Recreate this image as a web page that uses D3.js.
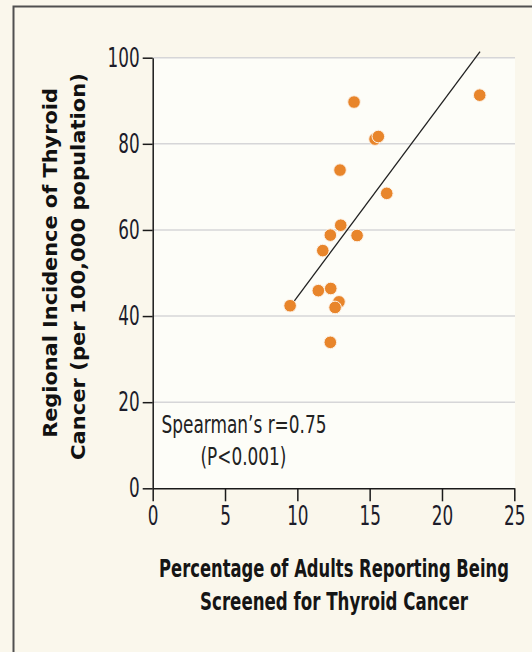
<!DOCTYPE html>
<html>
<head>
<meta charset="utf-8">
<script src="https://cdn.jsdelivr.net/npm/d3@7"></script>
<style>
  html, body { margin: 0; padding: 0; background: #faf7ec; }
  svg { display: block; }
  .cond { font-family: "DejaVu Sans Condensed", "Liberation Sans Narrow", sans-serif; }
</style>
</head>
<body>
<svg id="chart" width="532" height="652"></svg>
<script>
// ---- data ----
const xTicks = [0, 5, 10, 15, 20, 25];
const yTicks = [0, 20, 40, 60, 80, 100];
// screening percentage (x) and incidence per 100,000 (y), one per region
const screeningPct = [12.88, 15.37, 9.50, 11.45, 12.31, 12.61, 12.28, 11.76, 12.28, 13.00, 14.13, 12.95, 16.18, 13.92, 15.60, 22.61];
const incidence    = [43.3, 81.1, 42.4, 45.9, 46.4, 42.0, 33.9, 55.2, 58.8, 61.1, 58.7, 73.9, 68.5, 89.7, 81.7, 91.3];
// fitted trend line endpoints
const trendX = [9.50, 22.63];
const trendY = [42.2, 101.4];
const xTitle = ["Percentage of Adults Reporting Being", "Screened for Thyroid Cancer"];
const yTitle = ["Regional Incidence of Thyroid", "Cancer (per 100,000 population)"];
const annotation = ["Spearman\u2019s r=0.75", "(P<0.001)"];

const svg = d3.select("#chart");

// fit a text horizontally to a target width by scaling, centred at (cx, cy)
function fitText(sel, cx, cy, target, rot) {
  sel.attr("x", 0).attr("y", 0).attr("text-anchor", "middle");
  const w = sel.node().getComputedTextLength();
  const s = target / w;
  sel.attr("transform", `translate(${cx},${cy}) rotate(${rot || 0}) scale(${s},1)`);
}

// frame
svg.append("rect").attr("x", 0).attr("y", 0).attr("width", 532).attr("height", 652).attr("fill", "#faf7ec");
svg.append("path").attr("d", "M13.5,652 L13.5,6.5 L532,6.5").attr("fill", "none").attr("stroke", "#505050").attr("stroke-width", 2);

const x = d3.scaleLinear().domain([0, 25]).range([152.7, 514.3]);
const y = d3.scaleLinear().domain([0, 100]).range([488.3, 57.7]);

// plot background
svg.append("rect").attr("x", x(0)).attr("y", y(100)).attr("width", 515 - x(0)).attr("height", y(0) - y(100)).attr("fill", "#fdfdf8");

// gridlines
svg.append("g").selectAll("line").data(yTicks.filter(d => d > 0)).join("line")
  .attr("x1", x(0)).attr("x2", 515)
  .attr("y1", d => y(d)).attr("y2", d => y(d))
  .attr("stroke", "#d6d6d8").attr("stroke-width", 1.5);

// axes
const tickScale = 0.72;
const yAxis = svg.append("g").attr("transform", `translate(${x(0)},0)`)
  .call(d3.axisLeft(y).tickValues(yTicks).tickSize(10).tickSizeOuter(0).tickPadding(3));
const xAxis = svg.append("g").attr("transform", `translate(0,${y(0)})`)
  .call(d3.axisBottom(x).tickValues(xTicks).tickSize(13).tickSizeOuter(0).tickPadding(5));
[yAxis, xAxis].forEach(g => {
  g.select(".domain").attr("stroke", "#1a1a1a").attr("stroke-width", 1.5);
  g.selectAll(".tick line").attr("stroke", "#1a1a1a").attr("stroke-width", 1.5);
  g.selectAll(".tick text").attr("class", "cond").attr("font-size", 26).attr("fill", "#1c1c2a");
});
yAxis.selectAll(".tick text").attr("x", null).attr("transform", `translate(-13,0) scale(${tickScale},1)`);
xAxis.selectAll(".tick text").attr("transform", `scale(${tickScale},1)`);

// trend line
svg.append("line")
  .attr("x1", x(trendX[0])).attr("y1", y(trendY[0]))
  .attr("x2", x(trendX[1])).attr("y2", y(trendY[1]))
  .attr("stroke", "#222").attr("stroke-width", 1.3);

// points
svg.append("g").selectAll("circle").data(screeningPct.map((v, i) => [v, incidence[i]])).join("circle")
  .attr("cx", d => x(d[0])).attr("cy", d => y(d[1])).attr("r", 6.3)
  .attr("fill", "#e8852b").attr("stroke", "#fdf3e8").attr("stroke-width", 1);

// annotation
fitText(svg.append("text").attr("class", "cond").attr("font-size", 25).attr("fill", "#222").text(annotation[0]), 244, 433, 165);
fitText(svg.append("text").attr("class", "cond").attr("font-size", 25).attr("fill", "#222").text(annotation[1]), 243.5, 465, 86);

// x title
fitText(svg.append("text").attr("class", "cond").attr("font-size", 25).attr("font-weight", "bold").attr("fill", "#151515").text(xTitle[0]), 334, 577, 350);
fitText(svg.append("text").attr("class", "cond").attr("font-size", 25).attr("font-weight", "bold").attr("fill", "#151515").text(xTitle[1]), 334, 610, 268);

// y title
fitText(svg.append("text").attr("font-family", "'DejaVu Sans', Verdana, sans-serif").attr("font-size", 20).attr("font-weight", "bold").attr("fill", "#111").text(yTitle[0]), 57, 263, 350, -90);
fitText(svg.append("text").attr("font-family", "'DejaVu Sans', Verdana, sans-serif").attr("font-size", 20).attr("font-weight", "bold").attr("fill", "#111").text(yTitle[1]), 85, 266.5, 387, -90);
</script>
</body>
</html>
